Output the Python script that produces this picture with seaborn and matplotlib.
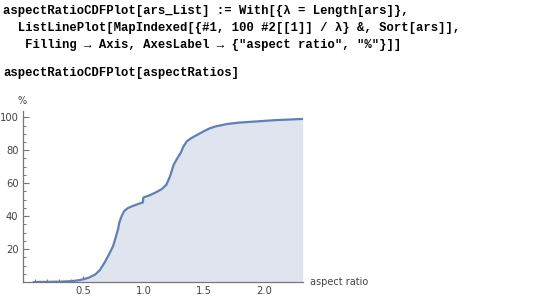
import matplotlib
matplotlib.use("Agg")
import matplotlib.pyplot as plt
import seaborn as sns
import pandas as pd
from matplotlib.ticker import MultipleLocator, FixedLocator

# data
aspect_ratio = [0.09, 0.2, 0.3, 0.4, 0.45, 0.5, 0.55, 0.6, 0.64, 0.68, 0.72, 0.75, 0.77,
                0.79, 0.80, 0.82, 0.84, 0.87, 0.9, 0.95, 0.995, 1.0, 1.05, 1.1, 1.15, 1.19,
                1.22, 1.25, 1.28, 1.31, 1.33, 1.36, 1.4, 1.45, 1.5, 1.55, 1.6, 1.7, 1.8,
                1.9, 2.0, 2.1, 2.2, 2.32]
percent = [0.0, 0.1, 0.2, 0.5, 0.9, 1.6, 2.7, 4.5, 7.3, 12.0, 17.5, 22.0, 27.0,
           32.0, 36.0, 40.0, 43.0, 44.8, 45.8, 47.2, 48.3, 51.3, 52.6, 54.3, 56.3, 59.0,
           64.0, 71.0, 75.0, 78.5, 82.0, 85.5, 87.5, 89.5, 91.5, 93.3, 94.5, 96.0, 96.8,
           97.3, 97.8, 98.3, 98.6, 99.0]
x_tick_labels = ["0.5", "1.0", "1.5", "2.0"]
y_tick_labels = ["20", "40", "60", "80", "100"]
code_lines = [
    "aspectRatioCDFPlot[ars_List] := With[{λ = Length[ars]},",
    "  ListLinePlot[MapIndexed[{#1, 100 #2[[1]] / λ} &, Sort[ars]],",
    "   Filling → Axis, AxesLabel → {\"aspect ratio\", \"%\"}]]",
    "aspectRatioCDFPlot[aspectRatios]",
]

W, H = 546, 300
sns.set_style("white")
fig = plt.figure(figsize=(W / 100, H / 100), dpi=100)

mono = ["Liberation Mono", "DejaVu Sans Mono"]
line_pos = [(3, 11), (3, 28), (3, 45), (3, 73)]
for (px, py), txt in zip(line_pos, code_lines):
    fig.text(px / W, 1 - py / H, txt, family=mono, fontweight="bold",
             fontsize=8.85, va="center", ha="left", color="black")

left, right, bottom_px, top_px = 22.7, 302.7, 282, 110.7
ax = fig.add_axes([left / W, 1 - bottom_px / H, (right - left) / W, (bottom_px - top_px) / H])

df = pd.DataFrame({"aspect ratio": aspect_ratio, "%": percent})
line_color = "#5E81B5"
ax.fill_between(df["aspect ratio"], 0, df["%"], color="#E0E4EF", lw=0)
sns.lineplot(data=df, x="aspect ratio", y="%", ax=ax, color=line_color,
             lw=1.6, estimator=None, sort=False)

ax.set_xlim(0, 2.32)
ax.set_ylim(0, 104)
ax.set_xlabel("")
ax.set_ylabel("")

ax.xaxis.set_major_locator(FixedLocator([0.5, 1.0, 1.5, 2.0]))
ax.set_xticklabels(x_tick_labels)
ax.xaxis.set_minor_locator(MultipleLocator(0.1))
ax.yaxis.set_major_locator(FixedLocator([20, 40, 60, 80, 100]))
ax.set_yticklabels(y_tick_labels)
ax.yaxis.set_minor_locator(MultipleLocator(5))

axis_color = "#777777"
for s in ["top", "right"]:
    ax.spines[s].set_visible(False)
for s in ["left", "bottom"]:
    ax.spines[s].set_visible(True)
    ax.spines[s].set_color(axis_color)
    ax.spines[s].set_linewidth(0.9)

ax.tick_params(which="major", direction="in", length=4, width=0.8, color=axis_color,
               labelsize=7.2, labelcolor="#444444", pad=3)
ax.tick_params(which="minor", direction="in", length=2.2, width=0.7, color=axis_color)
ax.tick_params(axis="x", which="both", bottom=True)
ax.tick_params(axis="y", which="both", left=True)
for lab in ax.get_xticklabels() + ax.get_yticklabels():
    lab.set_family("DejaVu Sans")

fig.text(22 / W, 1 - 101 / H, "%", fontsize=7, color="#444444", ha="center", va="center")
fig.text(310 / W, 1 - 282 / H, "aspect ratio", fontsize=7, color="#444444", ha="left", va="center")

fig.savefig("out.png", dpi=100)
